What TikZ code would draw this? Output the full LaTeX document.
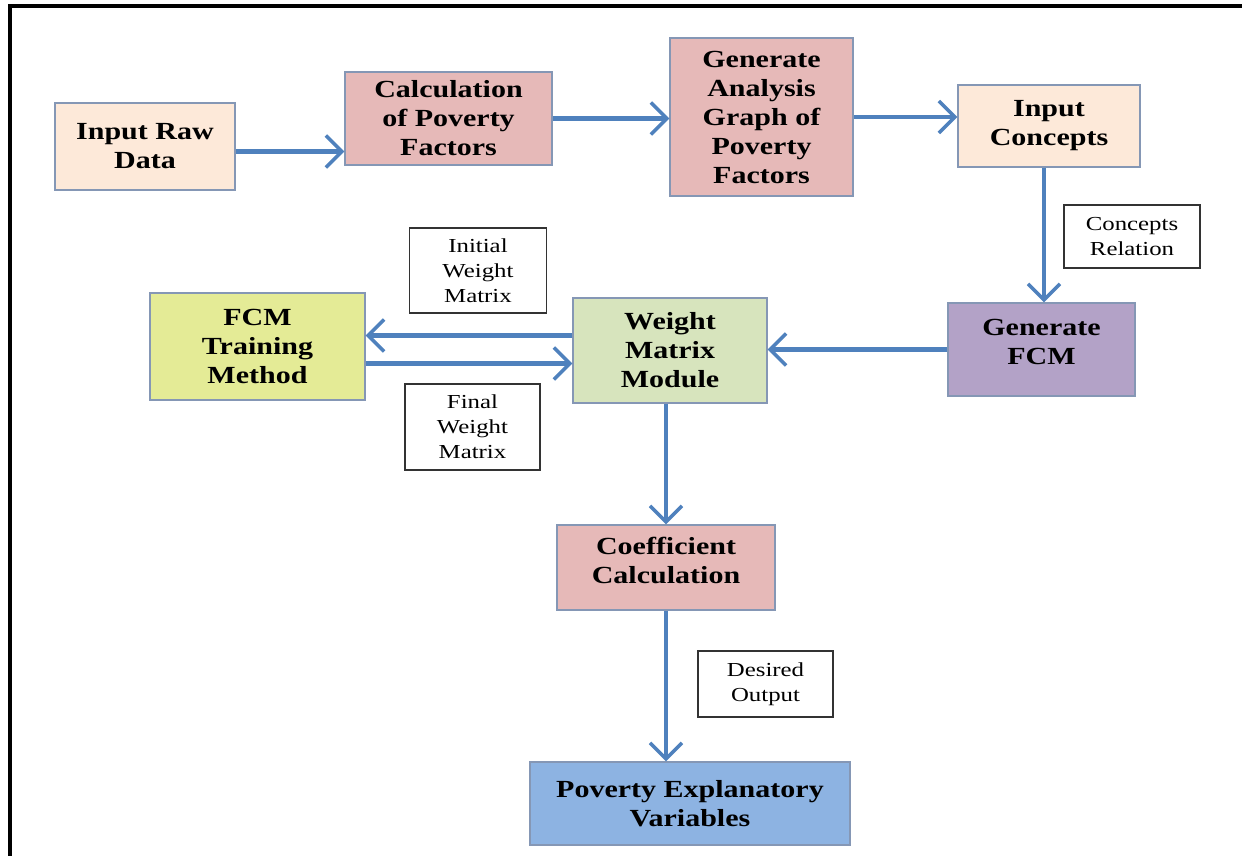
\documentclass[tikz,border=0pt]{standalone}
\usepackage{fontspec}
\setmainfont{Liberation Serif}
\newfontfamily\wideserif[FakeStretch=1.22]{Liberation Serif}
\newfontfamily\tagserif[FakeStretch=1.25]{Liberation Serif}
\usetikzlibrary{arrows.meta}
\definecolor{peach}{HTML}{FDE9D9}
\definecolor{rose}{HTML}{E6B9B8}
\definecolor{lilac}{HTML}{B3A2C7}
\definecolor{sage}{HTML}{D7E4BD}
\definecolor{lime}{HTML}{E4EB96}
\definecolor{sky}{HTML}{8DB3E2}
\definecolor{flowblue}{HTML}{4F81BD}
\definecolor{edgegray}{HTML}{8597B5}

\begin{document}
\begin{tikzpicture}
[x=0.02cm, y=-0.02cm,
 block/.style={draw=edgegray, line width=0.8pt, align=center, inner sep=0pt,
   font=\wideserif\fontsize{14}{16.5}\selectfont\bfseries},
 tag/.style={draw=black!80, line width=0.9pt, fill=white, align=center, inner sep=0pt,
   font=\tagserif\fontsize{11.3}{14.2}\selectfont},
 flow/.style={draw=flowblue, line width=2.3pt,
   -{Straight Barb[length=3.2mm, width=6.4mm, line width=2pt]}}]
\useasboundingbox (0,0) rectangle (1242,856);
\draw [line width=1.8pt] (10,856)--(10,6)--(1242,6);

\node [block, fill=peach, minimum width=3.6cm, minimum height=1.74cm] (raw) at (145,146.5) {Input Raw\\Data};
\node [block, fill=rose, minimum width=4.14cm, minimum height=1.86cm] (calc) at (448.5,118.5) {Calculation\\of Poverty\\Factors};
\node [block, fill=rose, minimum width=3.66cm, minimum height=3.16cm] (graph) at (761.5,117) {Generate\\Analysis\\Graph of\\Poverty\\Factors};
\node [block, fill=peach, minimum width=3.64cm, minimum height=1.64cm] (concepts) at (1049,126) {Input\\Concepts};
\node [block, fill=lilac, minimum width=3.74cm, minimum height=1.86cm] (genfcm) at (1041.5,349.5) {Generate\\FCM\\[-8pt]};
\node [block, fill=sage, minimum width=3.88cm, minimum height=2.1cm] (wmm) at (670,350.5) {Weight\\Matrix\\Module};
\node [block, fill=lime, minimum width=4.3cm, minimum height=2.14cm] (train) at (257.5,346.5) {FCM\\Training\\Method};
\node [block, fill=rose, minimum width=4.36cm, minimum height=1.7cm] (coef) at (666,567.5) {Coefficient\\Calculation\\[-8pt]};
\node [block, fill=sky, minimum width=6.4cm, minimum height=1.66cm] (pov) at (690,803.5) {Poverty Explanatory\\Variables};

\node [tag, minimum width=2.72cm, minimum height=1.26cm] (relation) at (1132,236.5) {Concepts\\Relation};
\node [tag, minimum width=2.74cm, minimum height=1.7cm] (initial) at (478,270.5) {Initial\\Weight\\Matrix};
\node [tag, minimum width=2.7cm, minimum height=1.72cm] (final) at (472.5,427) {Final\\Weight\\Matrix};
\node [tag, minimum width=2.7cm, minimum height=1.32cm] (desired) at (765.5,684) {Desired\\Output};

\draw [flow] ([yshift=-1mm]raw.east)--([yshift=-1mm]raw.east -| calc.west);
\draw [flow] (calc.east)--(calc.east -| graph.west);
\draw [flow] (graph.east)--(graph.east -| concepts.west);
\draw [flow] ([xshift=-1mm]concepts.south)--([xshift=-1mm]concepts.south |- genfcm.north);
\draw [flow] (genfcm.west)--(genfcm.west -| wmm.east);
\draw [flow] ([yshift=3mm]wmm.west)--([yshift=3mm]wmm.west -| train.east);
\draw [flow] ([yshift=-3.4mm]train.east)--([yshift=-3.4mm]train.east -| wmm.west);
\draw [flow] (wmm.south -| coef.north)--(coef.north);
\draw [flow] (coef.south)--(coef.south |- pov.north);
\end{tikzpicture}
\end{document}
